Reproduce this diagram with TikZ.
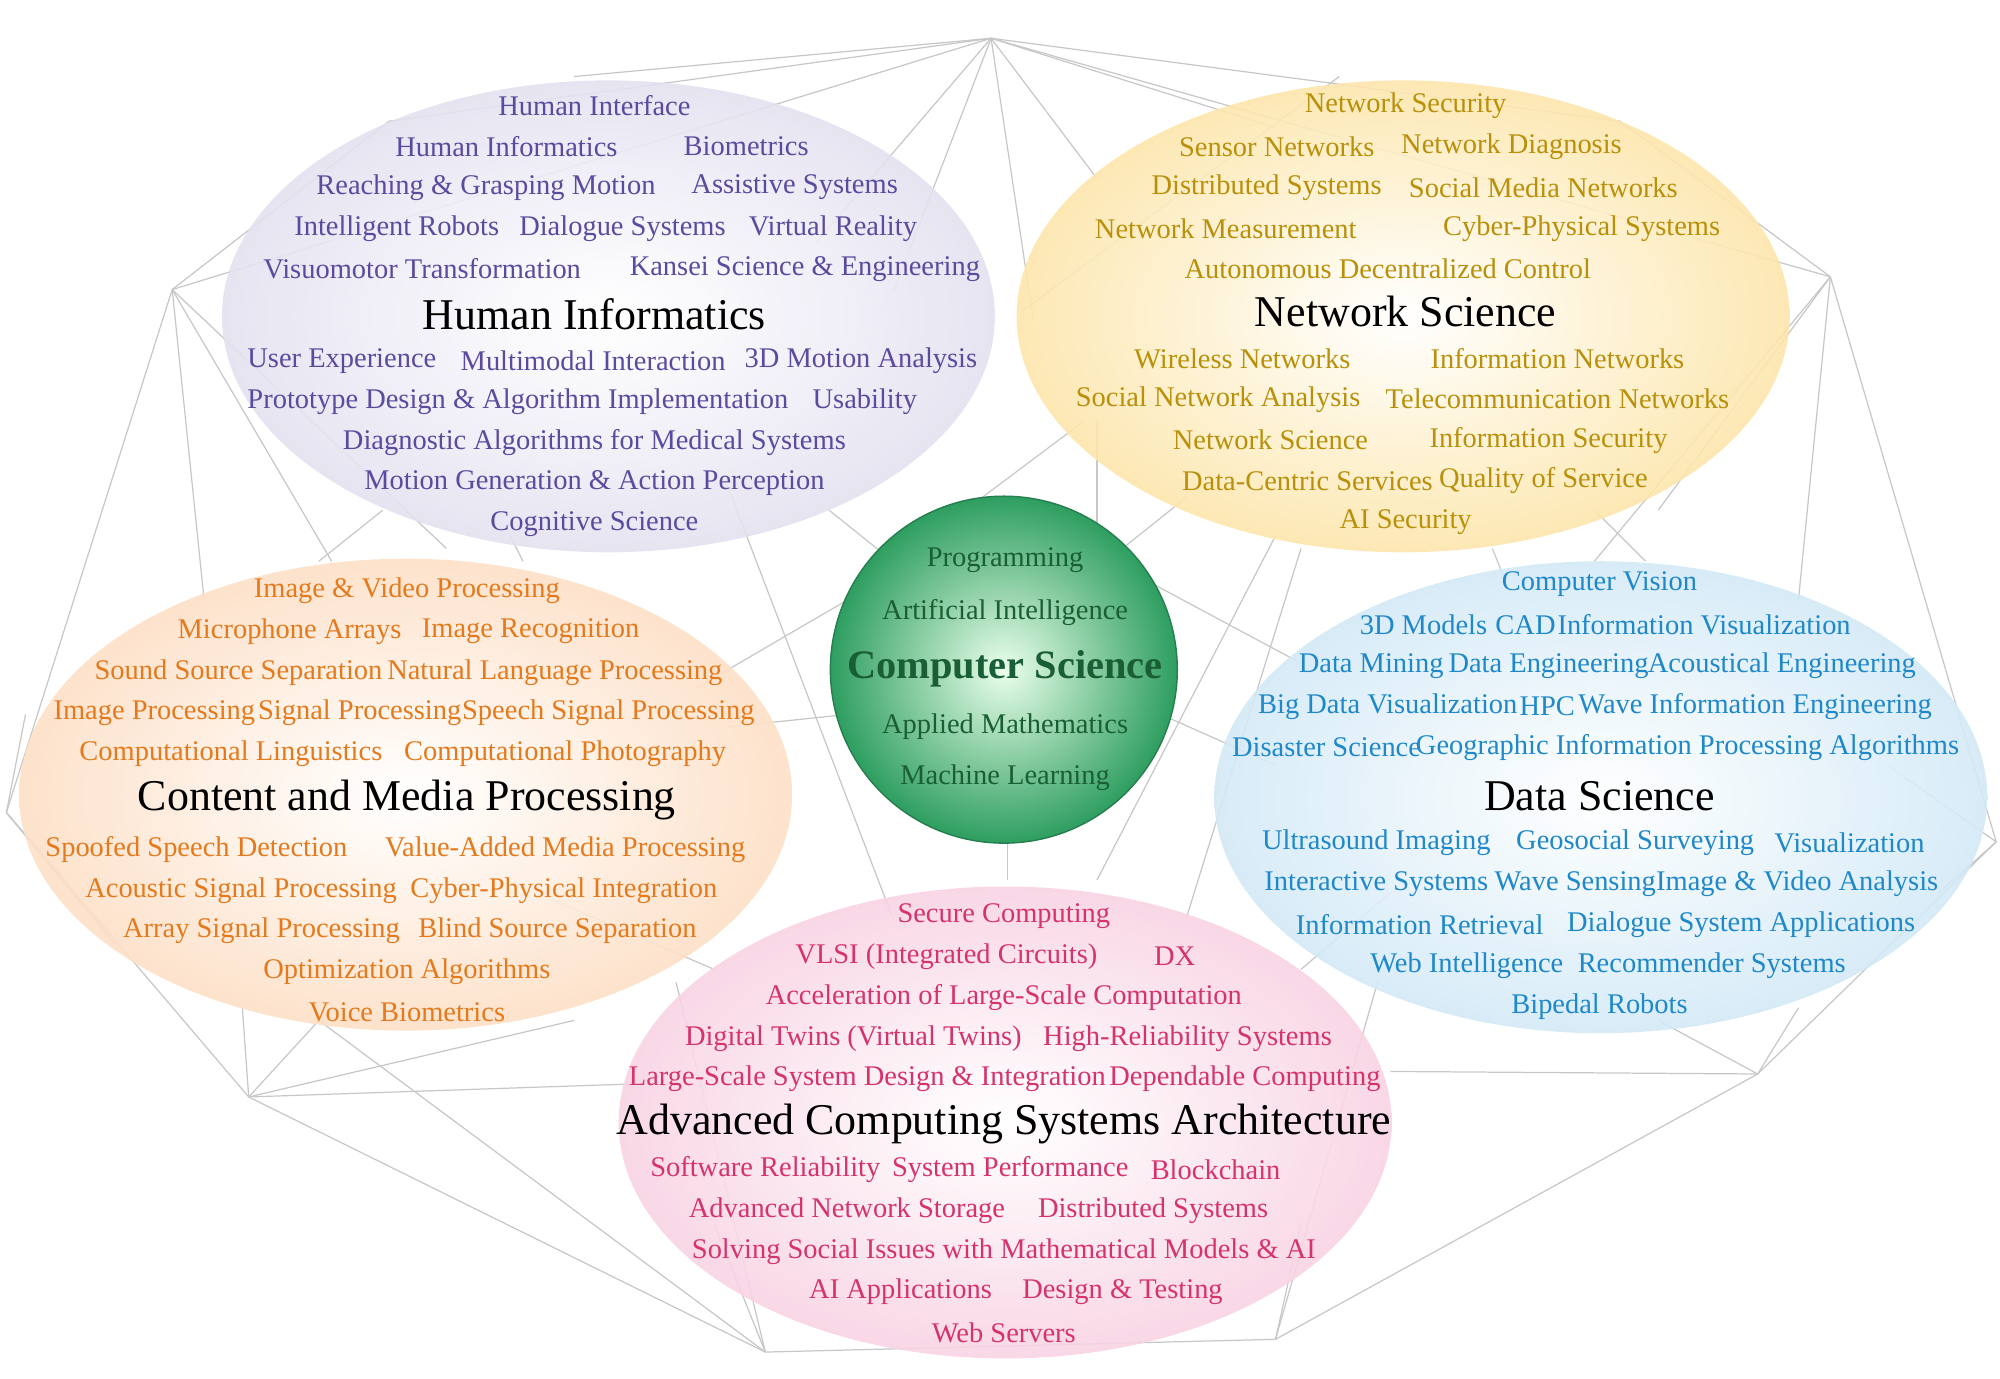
\documentclass[tikz,border=0pt]{standalone}
\usepackage{fontspec}
\setmainfont{Liberation Serif}
\usetikzlibrary{positioning}
\definecolor{hicol}{HTML}{5B4A9E}
\definecolor{hifill}{HTML}{E4E1F0}
\definecolor{nscol}{HTML}{B8900A}
\definecolor{nsfill}{HTML}{FDE6AC}
\definecolor{cmcol}{HTML}{E47A1C}
\definecolor{cmfill}{HTML}{FDDFC6}
\definecolor{dscol}{HTML}{1E88C8}
\definecolor{dsfill}{HTML}{D3E9F6}
\definecolor{accol}{HTML}{D6336C}
\definecolor{acfill}{HTML}{F8D3E3}
\definecolor{cscol}{HTML}{1A5E36}
\definecolor{csfill}{HTML}{2E9E60}

\tikzset{
  topic/.style={font=\fontsize{8.1}{9.5}\selectfont, inner sep=1pt},
  area/.style={font=\fontsize{12.5}{14}\selectfont, text=black, inner sep=1pt},
  bgline/.style={draw=black!22, line width=0.35pt},
}

\begin{document}
\begin{tikzpicture}[x=0.01275cm, y=-0.01275cm]
  \useasboundingbox (0,0) rectangle (1568,1081);

  % background net
  \foreach \a/\b/\c/\d in {
    777/30/305/95, 777/30/135/227, 777/30/1435/217, 777/30/700/230, 777/30/860/140,
    777/30/1000/100, 777/30/1270/95, 777/30/450/60, 777/30/810/250, 777/30/640/190,
    135/227/5/637, 135/227/305/95, 135/227/260/440, 135/227/160/470, 135/227/350/430,
    1435/217/1565/660, 1435/217/1270/95, 1435/217/1410/470, 1435/217/1250/440, 1435/217/1300/400,
    5/637/195/860, 5/637/20/560, 5/637/90/740, 5/637/50/690,
    1565/660/1378/842, 1565/660/1520/700, 1565/660/1480/600,
    195/860/600/1060, 195/860/190/790, 195/860/250/800, 195/860/490/850, 195/860/450/800,
    1378/842/1000/1050, 1378/842/1300/800, 1378/842/1090/840, 1378/842/1410/790,
    600/1060/1000/1050, 600/1060/530/770, 600/1060/250/800, 600/1060/560/960,
    1000/1050/1080/770, 1000/1050/1020/960,
    650/400/700/440, 770/390/850/330, 880/430/930/390, 545/540/665/470,
    570/570/665/560, 910/560/1000/600, 880/445/1020/520, 860/690/1000/420,
    930/720/1020/430, 700/720/570/380, 790/690/790/660, 560/760/420/700,
    1020/760/1090/700, 1170/430/1180/455, 800/245/1050/60, 400/420/410/440,
    860/330/860/440, 1250/400/1290/440, 300/400/250/440
  }{
    \draw[bgline] (\a,\b) -- (\c,\d);
  }

  % areas
  \shade[inner color=white, outer color=hifill, opacity=0.9] (477,248) ellipse (303 and 185);
  \shade[inner color=white, outer color=nsfill, opacity=0.9] (1100,248) ellipse (303 and 185);
  \shade[inner color=white, outer color=cmfill, opacity=0.9] (318,623) ellipse (303 and 185);
  \shade[inner color=white, outer color=dsfill, opacity=0.9] (1255,625) ellipse (303 and 185);
  \shade[inner color=white, outer color=acfill, opacity=0.9] (788,880) ellipse (303 and 185);
  \shade[inner color=green!8, outer color=csfill] (787,525) circle (136);
  \draw[csfill!80!black, line width=0.4pt] (787,525) circle (136);

  % Human Informatics
  \foreach \t/\x/\y [count=\i] in {
    Human Interface/466/83, Human Informatics/397/115, Biometrics/585/115,
    Reaching \& Grasping Motion/381/147, Assistive Systems/623/147,
    Intelligent Robots/311/179, Dialogue Systems/488/179, Virtual Reality/653/179,
    Visuomotor Transformation/331/211, Kansei Science \& Engineering/631/211,
    User Experience/268/283, Multimodal Interaction/465/283, 3D Motion Analysis/675/283,
    Prototype Design \& Algorithm Implementation/406/315, Usability/678/315,
    Diagnostic Algorithms for Medical Systems/466/347,
    Motion Generation \& Action Perception/466/379, Cognitive Science/466/411}
    \node[topic, text=hicol] (hi\i) at (\x,\y) {\t};
  \node[area] (hititle) at (466,246) {Human Informatics};

  % Network Science
  \foreach \t/\x/\y [count=\i] in {
    Network Security/1102/83, Sensor Networks/1001/115, Network Diagnosis/1185/115,
    Distributed Systems/993/147, Social Media Networks/1210/147,
    Network Measurement/961/179, Cyber-Physical Systems/1240/179,
    Autonomous Decentralized Control/1088/211,
    Wireless Networks/974/281, Information Networks/1221/281,
    Social Network Analysis/955/313, Telecommunication Networks/1221/313,
    Network Science/996/345, Information Security/1214/345,
    Data-Centric Services/1025/377, Quality of Service/1210/377, AI Security/1102/409}
    \node[topic, text=nscol] (ns\i) at (\x,\y) {\t};
  \node[area] (nstitle) at (1102,244) {Network Science};

  % Content and Media Processing
  \foreach \t/\x/\y [count=\i] in {
    Image \& Video Processing/319/463, Microphone Arrays/227/495, Image Recognition/416/495,
    Sound Source Separation/187/527, Natural Language Processing/435/527,
    Image Processing/121/559, Signal Processing/282/559, Speech Signal Processing/477/559,
    Computational Linguistics/181/591, Computational Photography/443/591,
    Spoofed Speech Detection/154/666, Value-Added Media Processing/443/666,
    Acoustic Signal Processing/189/698, Cyber-Physical Integration/442/698,
    Array Signal Processing/205/730, Blind Source Separation/437/730,
    Optimization Algorithms/319/762, Voice Biometrics/319/794}
    \node[topic, text=cmcol] (cm\i) at (\x,\y) {\t};
  \node[area] (cmtitle) at (319,627) {Content and Media Processing};

  % Data Science
  \foreach \t/\x/\y [count=\i] in {
    Computer Vision/1254/458, 3D Models/1116/490, CAD/1196/490, Information Visualization/1336/490,
    Data Mining/1075/522, Data Engineering/1214/522, Acoustical Engineering/1397/522,
    Big Data Visualization/1088/554, HPC/1213/554, Wave Information Engineering/1376/554,
    Disaster Science/1040/586, Geographic Information Processing Algorithms/1323/586,
    Ultrasound Imaging/1079/661, Geosocial Surveying/1282/661, Visualization/1450/661,
    Interactive Systems/1079/693, Wave Sensing/1235/693, Image \& Video Analysis/1409/693,
    Information Retrieval/1113/725, Dialogue System Applications/1365/725,
    Web Intelligence/1150/757, Recommender Systems/1342/757, Bipedal Robots/1254/789}
    \node[topic, text=dscol] (ds\i) at (\x,\y) {\t};
  \node[area] (dstitle) at (1254,624) {Data Science};

  % Advanced Computing Systems Architecture
  \foreach \t/\x/\y [count=\i] in {
    Secure Computing/787/718, VLSI (Integrated Circuits)/742/750, DX/921/750,
    Acceleration of Large-Scale Computation/787/782,
    Digital Twins (Virtual Twins)/669/814, High-Reliability Systems/931/814,
    Large-Scale System Design \& Integration/680/846, Dependable Computing/976/846,
    Software Reliability/600/917, System Performance/792/917, Blockchain/953/917,
    Advanced Network Storage/664/949, Distributed Systems/904/949,
    Solving Social Issues with Mathematical Models \& AI/787/981,
    AI Applications/706/1013, Design \& Testing/880/1013, Web Servers/787/1045}
    \node[topic, text=accol] (ac\i) at (\x,\y) {\t};
  \node[area] (actitle) at (787,881) {Advanced Computing Systems Architecture};

  % Computer Science
  \foreach \t/\y [count=\i] in {Programming/439, Artificial Intelligence/480,
    Applied Mathematics/570, Machine Learning/610}
    \node[topic, text=cscol] (cs\i) at (788,\y) {\t};
  \node[font=\bfseries\fontsize{11.5}{13}\selectfont, text=cscol] (cstitle) at (788,524) {Computer Science};
\end{tikzpicture}
\end{document}
